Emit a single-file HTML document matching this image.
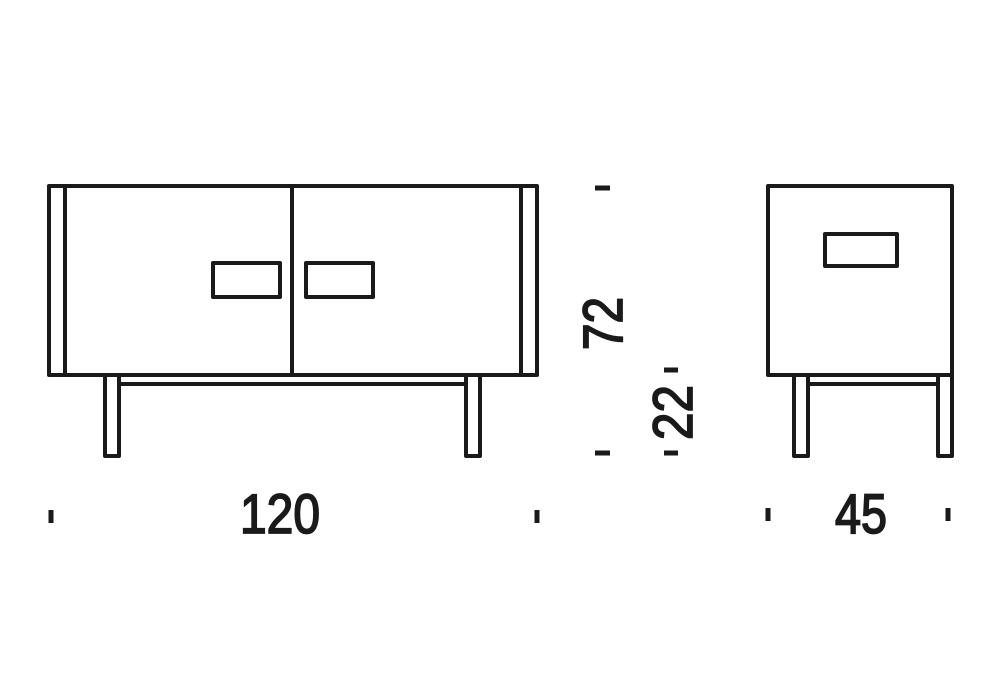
<!DOCTYPE html>
<html><head><meta charset="utf-8"><style>html,body{margin:0;padding:0;background:#fff}svg{display:block}</style></head>
<body>
<svg width="1000" height="700" viewBox="0 0 1000 700" xmlns="http://www.w3.org/2000/svg">
<g fill="none" stroke="#1a1a1a" stroke-width="4" stroke-linejoin="round">
  <rect x="49" y="186" width="488" height="189"/>
  <line x1="65" y1="186" x2="65" y2="375"/>
  <line x1="521" y1="186" x2="521" y2="375"/>
  <line x1="292" y1="186" x2="292" y2="375"/>
  <rect x="213" y="263" width="67" height="34"/>
  <rect x="306" y="263" width="67" height="34"/>
  <rect x="105" y="375" width="14" height="81"/>
  <rect x="466" y="375" width="14" height="81"/>
  <line x1="119" y1="384" x2="466" y2="384"/>
  <rect x="768" y="186" width="184" height="189"/>
  <rect x="825" y="234" width="72" height="32"/>
  <rect x="794" y="375" width="14" height="81"/>
  <rect x="938" y="375" width="14" height="81"/>
  <line x1="808" y1="384" x2="938" y2="384"/>
</g>
<g stroke="#1a1a1a" stroke-width="5">
  <line x1="595" y1="188" x2="610" y2="188"/>
  <line x1="595" y1="453" x2="610" y2="453"/>
  <line x1="664" y1="370" x2="678" y2="370"/>
  <line x1="664" y1="453" x2="678" y2="453"/>
  <line x1="51" y1="510" x2="51" y2="523"/>
  <line x1="537" y1="510" x2="537" y2="523"/>
  <line x1="768" y1="508" x2="768" y2="521"/>
  <line x1="948" y1="508" x2="948" y2="521"/>
</g>
<g font-family="Liberation Sans Narrow, Liberation Sans, sans-serif" font-size="56" fill="#1a1a1a" stroke="#1a1a1a" stroke-width="1.8">
  <text x="240" y="533" textLength="80" lengthAdjust="spacingAndGlyphs">120</text>
  <text x="835" y="533" textLength="52" lengthAdjust="spacingAndGlyphs">45</text>
  <text transform="translate(622,350) rotate(-90)" textLength="53" lengthAdjust="spacingAndGlyphs">72</text>
  <text transform="translate(692,440) rotate(-90)" textLength="55" lengthAdjust="spacingAndGlyphs">22</text>
</g>
</svg>
</body></html>
